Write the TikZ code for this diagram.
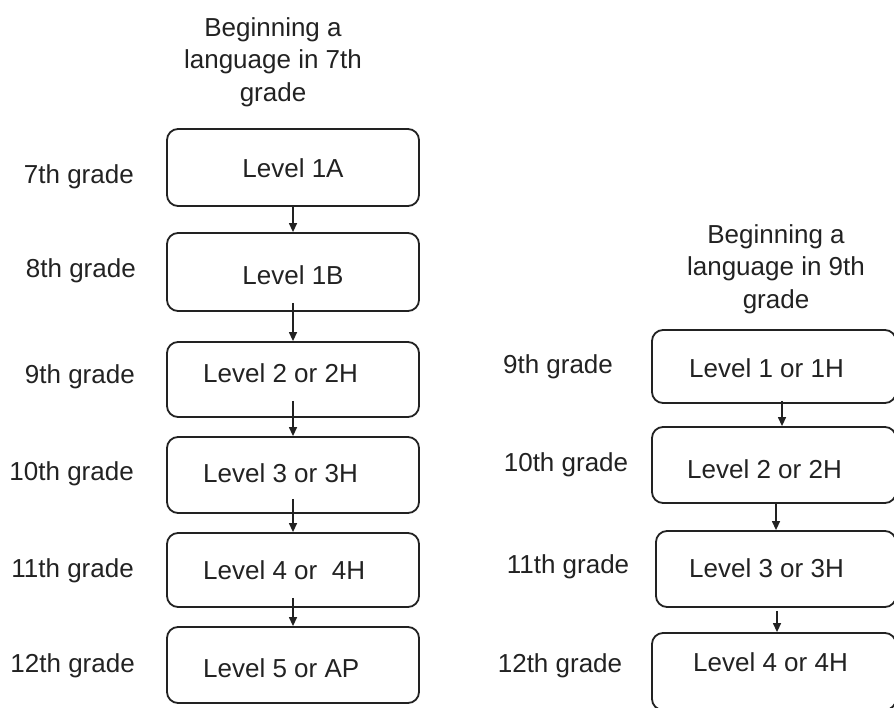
\documentclass[tikz,border=0pt]{standalone}
\usepackage{fontspec}
\setmainfont{Liberation Sans}
\usetikzlibrary{arrows.meta}
\definecolor{ink}{HTML}{222222}
\begin{document}
\begin{tikzpicture}[x=1pt,y=-1pt,
  box/.style={draw=ink, line width=1.8pt, rounded corners=11pt, inner sep=0pt},
  txt/.style={font=\fontsize{26}{32.5}\selectfont, text=ink, inner sep=0pt, text height=18.7pt, text depth=0pt},
  ttl/.style={font=\fontsize{26}{32.5}\selectfont, text=ink, inner sep=0pt, align=center},
  arr/.style={draw=ink, line width=1.3pt, -{Triangle[length=9pt,width=8pt]}}]
\useasboundingbox (0,0) rectangle (894,707);
\clip (0,0) rectangle (894,707);
% titles
\node[ttl, anchor=north] (t1) at (273,17) {Beginning a\\language in 7th\\grade};
\node[ttl, anchor=north] (t2) at (776,224) {Beginning a\\language in 9th\\grade};
% left boxes
\node[box, minimum width=252pt, minimum height=77pt] (b1) at (293,167.5) {};
\node[box, minimum width=252pt, minimum height=78pt] (b2) at (293,272) {};
\node[box, minimum width=252pt, minimum height=75pt] (b3) at (293,379.5) {};
\node[box, minimum width=252pt, minimum height=76pt] (b4) at (293,475) {};
\node[box, minimum width=252pt, minimum height=74pt] (b5) at (293,570) {};
\node[box, minimum width=252pt, minimum height=76pt] (b6) at (293,665) {};
% left box texts
\node[txt] (l1) at (293,168) {Level 1A};
\node[txt] (l2) at (293,275) {Level 1B};
\node[txt, anchor=west] (l3) at (203,373.5) {Level 2 or 2H};
\node[txt, anchor=west] (l4) at (203,473) {Level 3 or 3H};
\node[txt, anchor=west] (l5) at (203,570) {Level 4 or\ \ 4H};
\node[txt, anchor=west] (l6) at (203,668) {Level 5 or AP};
% left grade labels
\node[txt, anchor=east] (g1) at (134,174) {7th grade};
\node[txt, anchor=east] (g2) at (136,268) {8th grade};
\node[txt, anchor=east] (g3) at (135,374) {9th grade};
\node[txt, anchor=east] (g4) at (134,471) {10th grade};
\node[txt, anchor=east] (g5) at (134,568) {11th grade};
\node[txt, anchor=east] (g6) at (135,663) {12th grade};
% left arrows
\draw[arr] (b1.south) -- (b2.north);
\draw[arr] ([yshift=9pt]b2.south) -- (b3.north);
\draw[arr] ([yshift=17pt]b3.south) -- (b4.north);
\draw[arr] ([yshift=15pt]b4.south) -- (b5.north);
\draw[arr] ([yshift=10pt]b5.south) -- (b6.north);
% right boxes
\node[box, minimum width=244pt, minimum height=73pt] (r1) at (774,366.5) {};
\node[box, minimum width=244pt, minimum height=76pt] (r2) at (774,465) {};
\node[box, minimum width=240pt, minimum height=76pt] (r3) at (776,569) {};
\node[box, minimum width=244pt, minimum height=77pt] (r4) at (774,671.5) {};
% right box texts
\node[txt, anchor=west] (m1) at (689,368.5) {Level 1 or 1H};
\node[txt, anchor=west] (m2) at (687,469) {Level 2 or 2H};
\node[txt, anchor=west] (m3) at (689,568.5) {Level 3 or 3H};
\node[txt, anchor=west] (m4) at (693,662) {Level 4 or 4H};
% right grade labels
\node[txt] (h1) at (558,364) {9th grade};
\node[txt] (h2) at (566,462) {10th grade};
\node[txt] (h3) at (568,564) {11th grade};
\node[txt] (h4) at (560,663) {12th grade};
% right arrows
\draw[arr] ([xshift=8pt,yshift=3pt]r1.south) -- ([xshift=8pt]r2.north);
\draw[arr] ([xshift=2pt]r2.south) -- (r3.north);
\draw[arr] ([xshift=1pt,yshift=-3pt]r3.south) -- ([xshift=3pt]r4.north);
\end{tikzpicture}
\end{document}
